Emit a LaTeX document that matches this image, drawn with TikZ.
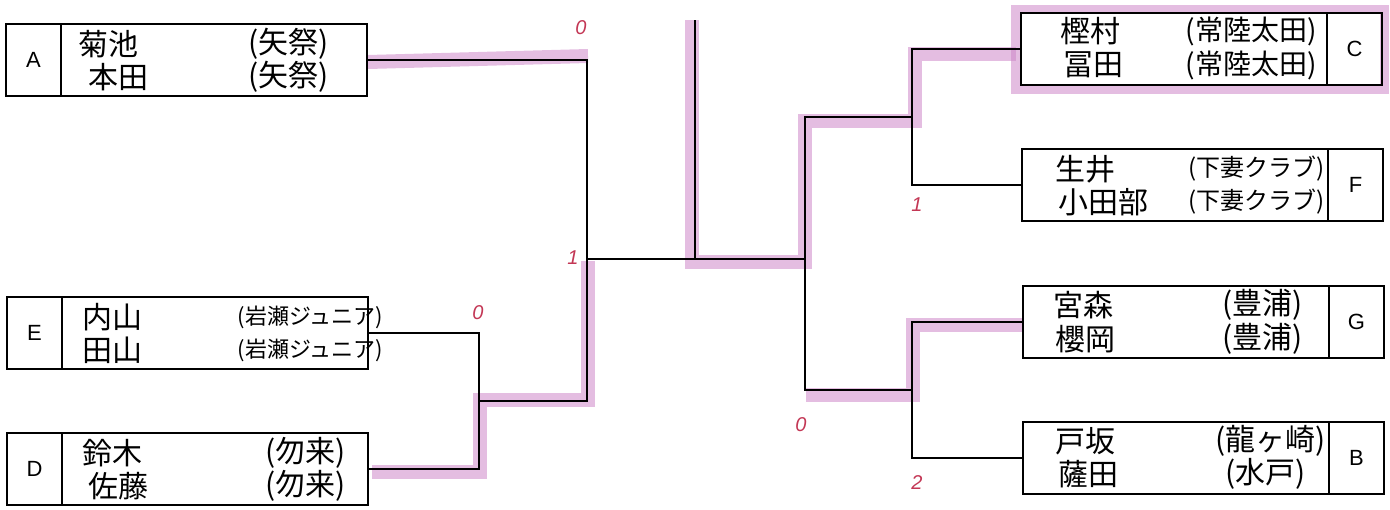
\documentclass[tikz,border=0pt]{standalone}
\usepackage{fontspec}
\setmainfont{Liberation Sans}
\newfontfamily\jpfont{Noto Sans CJK JP}
\usetikzlibrary{positioning}
\definecolor{marker}{RGB}{205,135,200}
\definecolor{score}{RGB}{195,55,85}
\begin{document}
\begin{tikzpicture}[x=1pt, y=-1pt, line width=1.5pt,
  seedcell/.style={draw, minimum width=55pt, minimum height=72pt, inner sep=0pt, outer sep=0pt, font=\fontsize{22}{24}\selectfont},
  entrycell/.style={draw, minimum width=306pt, minimum height=72pt, inner sep=0pt, outer sep=0pt},
  player/.style={anchor=west, inner sep=0pt, font=\jpfont\fontsize{30}{32}\selectfont},
  team/.style={anchor=west, inner sep=0pt, font=\jpfont\fontsize{#1}{#1}\selectfont},
  hl/.style={draw=marker, line width=14pt, opacity=0.55},
  pts/.style={text=score, inner sep=0pt, font=\itshape\fontsize{20}{22}\selectfont}]
\useasboundingbox (0,0) rectangle (1390,509);

\draw[hl] (368,62) -- (588,56);
\draw[hl] (372,472) -- (480,472) -- (480,400) -- (588,400) -- (588,261);
\draw[hl] (692,20) -- (692,262) -- (805,262) -- (805,121) -- (915,121) -- (915,54) -- (1016,54);
\draw[hl, line width=9pt] (1015,9) rectangle (1384,89);
\draw[hl] (1022,325) -- (913,325) -- (913,395) -- (806,395);

\node[seedcell] (Aseed) at (33.5,60) {A};
\node[entrycell, right=0pt of Aseed] (Abox) {};
\node[seedcell] (Eseed) at (34.5,333) {E};
\node[entrycell, right=0pt of Eseed] (Ebox) {};
\node[seedcell] (Dseed) at (34.5,469) {D};
\node[entrycell, right=0pt of Dseed] (Dbox) {};
\node[entrycell] (Cbox) at (1174,49) {};
\node[seedcell, right=0pt of Cbox] (Cseed) {C};
\node[entrycell] (Fbox) at (1175,185) {};
\node[seedcell, right=0pt of Fbox] (Fseed) {F};
\node[entrycell] (Gbox) at (1176,322) {};
\node[seedcell, right=0pt of Gbox] (Gseed) {G};
\node[entrycell] (Bbox) at (1176,458) {};
\node[seedcell, right=0pt of Bbox] (Bseed) {B};

\node[player] (A1) at (78,44) {菊池};
\node[player] (A2) at (88,77) {本田};
\node[team=30] (At1) at (248,44) {(矢祭)};
\node[team=30] (At2) at (248,77) {(矢祭)};
\node[player] (E1) at (82,317) {内山};
\node[player] (E2) at (82,350) {田山};
\node[team=22] (Et1) at (237,317) {(岩瀬ジュニア)};
\node[team=22] (Et2) at (237,350) {(岩瀬ジュニア)};
\node[player] (D1) at (82,453) {鈴木};
\node[player] (D2) at (88,486) {佐藤};
\node[team=30] (Dt1) at (265,453) {(勿来)};
\node[team=30] (Dt2) at (265,486) {(勿来)};
\node[player] (C1) at (1060,31) {樫村};
\node[player] (C2) at (1063,65) {冨田};
\node[team=28] (Ct1) at (1185,31) {(常陸太田)};
\node[team=28] (Ct2) at (1185,65) {(常陸太田)};
\node[player] (F1) at (1055,169) {生井};
\node[player] (F2) at (1058,202) {小田部};
\node[team=24] (Ft1) at (1188,169) {(下妻クラブ)};
\node[team=24] (Ft2) at (1188,202) {(下妻クラブ)};
\node[player] (G1) at (1053,305) {宮森};
\node[player] (G2) at (1055,339) {櫻岡};
\node[team=30] (Gt1) at (1222,305) {(豊浦)};
\node[team=30] (Gt2) at (1222,339) {(豊浦)};
\node[player] (B1) at (1055,441) {戸坂};
\node[player] (B2) at (1058,474) {薩田};
\node[team=30] (Bt1) at (1215,441) {(龍ヶ崎)};
\node[team=30] (Bt2) at (1225,474) {(水戸)};

\coordinate (jED) at (479,401);
\coordinate (jL) at (587,259);
\coordinate (jCF) at (912,117);
\coordinate (jGB) at (912,390);
\coordinate (jR) at (805,259);
\coordinate (top) at (695,20);
\coordinate (jF) at (695,259);
\draw (Ebox.east) -| (jED) |- (Dbox.east);
\draw (Abox.east) -| (jL) |- (jED);
\draw (Cbox.west) -| (jCF) |- (Fbox.west);
\draw (Gbox.west) -| (jGB) |- (Bbox.west);
\draw (jCF) -| (jR) |- (jGB);
\draw (jL) -- (jR);
\draw (top) -- (jF);

\node[pts] (sA) at (581,28) {0};
\node[pts] (sD) at (573,258) {1};
\node[pts] (sE) at (478,313) {0};
\node[pts] (sF) at (917,205) {1};
\node[pts] (sC) at (801,425) {0};
\node[pts] (sB) at (917,483) {2};
\end{tikzpicture}
\end{document}
